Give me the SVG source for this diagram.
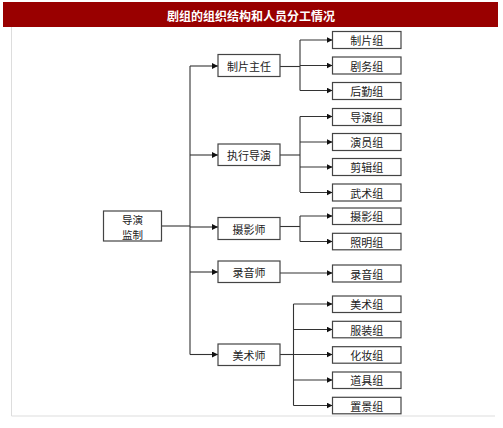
<svg xmlns="http://www.w3.org/2000/svg" width="503" height="428" viewBox="0 0 503 428">
<defs>
<marker id="arr" markerWidth="6" markerHeight="6" refX="6" refY="3" orient="auto" markerUnits="userSpaceOnUse">
<path d="M0,0 L6,3 L0,6 Z" fill="#111"/>
</marker>
<style>
.box{fill:#fff;stroke:#444;stroke-width:1.2}
.t{font-family:"Noto Sans CJK SC","Liberation Sans",sans-serif;font-size:11px;fill:#222;text-anchor:middle;dominant-baseline:central}
.c line,.c polyline{stroke:#333;stroke-width:1.1;fill:none}
</style>
</defs>
<rect x="0" y="0" width="503" height="428" fill="#fff"/>
<rect x="3" y="2" width="495" height="25" fill="#990000"/>
<text x="251" y="15" font-family="'Noto Sans CJK SC','Liberation Sans',sans-serif" font-size="12" font-weight="bold" fill="#fff" text-anchor="middle" dominant-baseline="central">剧组的组织结构和人员分工情况</text>
<polyline points="11.5,27 11.5,416 495,416" fill="none" stroke="#ddd" stroke-width="1"/>

<g class="c" id="connectors">
<line x1="161.7" y1="226" x2="190" y2="226"/>
<line x1="190" y1="66" x2="190" y2="354.5"/>
<line x1="190" y1="66" x2="218" y2="66" marker-end="url(#arr)"/>
<line x1="190" y1="155" x2="218" y2="155" marker-end="url(#arr)"/>
<line x1="190" y1="227" x2="218" y2="227" marker-end="url(#arr)"/>
<line x1="190" y1="272" x2="218" y2="272" marker-end="url(#arr)"/>
<line x1="190" y1="354.5" x2="218" y2="354.5" marker-end="url(#arr)"/>

<line x1="280" y1="66.5" x2="300" y2="66.5"/>
<line x1="300" y1="40" x2="300" y2="90.5"/>
<line x1="300" y1="40" x2="332.5" y2="40" marker-end="url(#arr)"/>
<line x1="300" y1="65.5" x2="332.5" y2="65.5" marker-end="url(#arr)"/>
<line x1="300" y1="90.5" x2="332.5" y2="90.5" marker-end="url(#arr)"/>

<line x1="280" y1="155" x2="300" y2="155"/>
<line x1="300" y1="116.5" x2="300" y2="192"/>
<line x1="300" y1="116.5" x2="332.5" y2="116.5" marker-end="url(#arr)"/>
<line x1="300" y1="142" x2="332.5" y2="142" marker-end="url(#arr)"/>
<line x1="300" y1="167" x2="332.5" y2="167" marker-end="url(#arr)"/>
<line x1="300" y1="192.5" x2="332.5" y2="192.5" marker-end="url(#arr)"/>

<line x1="280" y1="226.5" x2="300" y2="226.5"/>
<line x1="300" y1="216" x2="300" y2="241.5"/>
<line x1="300" y1="216" x2="332.5" y2="216" marker-end="url(#arr)"/>
<line x1="300" y1="241.5" x2="332.5" y2="241.5" marker-end="url(#arr)"/>

<line x1="280" y1="273" x2="332.5" y2="273" marker-end="url(#arr)"/>

<line x1="280" y1="354.5" x2="293.5" y2="354.5"/>
<line x1="293.5" y1="304" x2="293.5" y2="405.5"/>
<line x1="293.5" y1="304" x2="332.5" y2="304" marker-end="url(#arr)"/>
<line x1="293.5" y1="329.5" x2="332.5" y2="329.5" marker-end="url(#arr)"/>
<line x1="293.5" y1="354.5" x2="332.5" y2="354.5" marker-end="url(#arr)"/>
<line x1="293.5" y1="380" x2="332.5" y2="380" marker-end="url(#arr)"/>
<line x1="293.5" y1="405.5" x2="332.5" y2="405.5" marker-end="url(#arr)"/>
</g>

<g id="n-root"><rect class="box" x="103.5" y="211" width="58" height="30"/><text class="t" x="132.5" y="219" style="font-size:10.5px"><tspan x="132.5" y="219">导演</tspan><tspan x="132.5" y="234">监制</tspan></text></g>

<g id="n-zpzr"><rect class="box" x="218" y="54.5" width="62" height="22"/><text class="t" x="249" y="65.5">制片主任</text></g>
<g id="n-zxdy"><rect class="box" x="218" y="144" width="62" height="21.5"/><text class="t" x="249" y="155">执行导演</text></g>
<g id="n-sys"><rect class="box" x="218" y="217.5" width="62" height="22"/><text class="t" x="249" y="228.5">摄影师</text></g>
<g id="n-lys"><rect class="box" x="218" y="261" width="62" height="21.5"/><text class="t" x="249" y="272">录音师</text></g>
<g id="n-mss"><rect class="box" x="218" y="344" width="62" height="21.5"/><text class="t" x="249" y="355">美术师</text></g>

<g id="n-zpz"><rect class="box" x="332.5" y="31.5" width="68.5" height="17"/><text class="t" x="366.7" y="40">制片组</text></g>
<g id="n-jwz"><rect class="box" x="332.5" y="57" width="68.5" height="17"/><text class="t" x="366.7" y="65.5">剧务组</text></g>
<g id="n-hqz"><rect class="box" x="332.5" y="82.5" width="68.5" height="17"/><text class="t" x="366.7" y="91">后勤组</text></g>
<g id="n-dyz"><rect class="box" x="332.5" y="108.5" width="68.5" height="17"/><text class="t" x="366.7" y="117">导演组</text></g>
<g id="n-yyz"><rect class="box" x="332.5" y="133.5" width="68.5" height="17"/><text class="t" x="366.7" y="142">演员组</text></g>
<g id="n-jjz"><rect class="box" x="332.5" y="158.5" width="68.5" height="17"/><text class="t" x="366.7" y="167">剪辑组</text></g>
<g id="n-wsz"><rect class="box" x="332.5" y="184" width="68.5" height="17"/><text class="t" x="366.7" y="192.5">武术组</text></g>
<g id="n-syz"><rect class="box" x="332.5" y="208" width="68.5" height="16.5"/><text class="t" x="366.7" y="216.3">摄影组</text></g>
<g id="n-zmz"><rect class="box" x="332.5" y="233.3" width="68.5" height="16.5"/><text class="t" x="366.7" y="241.5">照明组</text></g>
<g id="n-lyz"><rect class="box" x="332.5" y="265" width="68.5" height="17"/><text class="t" x="366.7" y="273.5">录音组</text></g>
<g id="n-mszz"><rect class="box" x="332.5" y="296" width="68.5" height="16.5"/><text class="t" x="366.7" y="304.3">美术组</text></g>
<g id="n-fzz"><rect class="box" x="332.5" y="321.3" width="68.5" height="16.5"/><text class="t" x="366.7" y="329.6">服装组</text></g>
<g id="n-hzz"><rect class="box" x="332.5" y="346.7" width="68.5" height="16.5"/><text class="t" x="366.7" y="355">化妆组</text></g>
<g id="n-djz"><rect class="box" x="332.5" y="372" width="68.5" height="16.5"/><text class="t" x="366.7" y="380.3">道具组</text></g>
<g id="n-zjz"><rect class="box" x="332.5" y="397.3" width="68.5" height="16.5"/><text class="t" x="366.7" y="405.6">置景组</text></g>
</svg>
